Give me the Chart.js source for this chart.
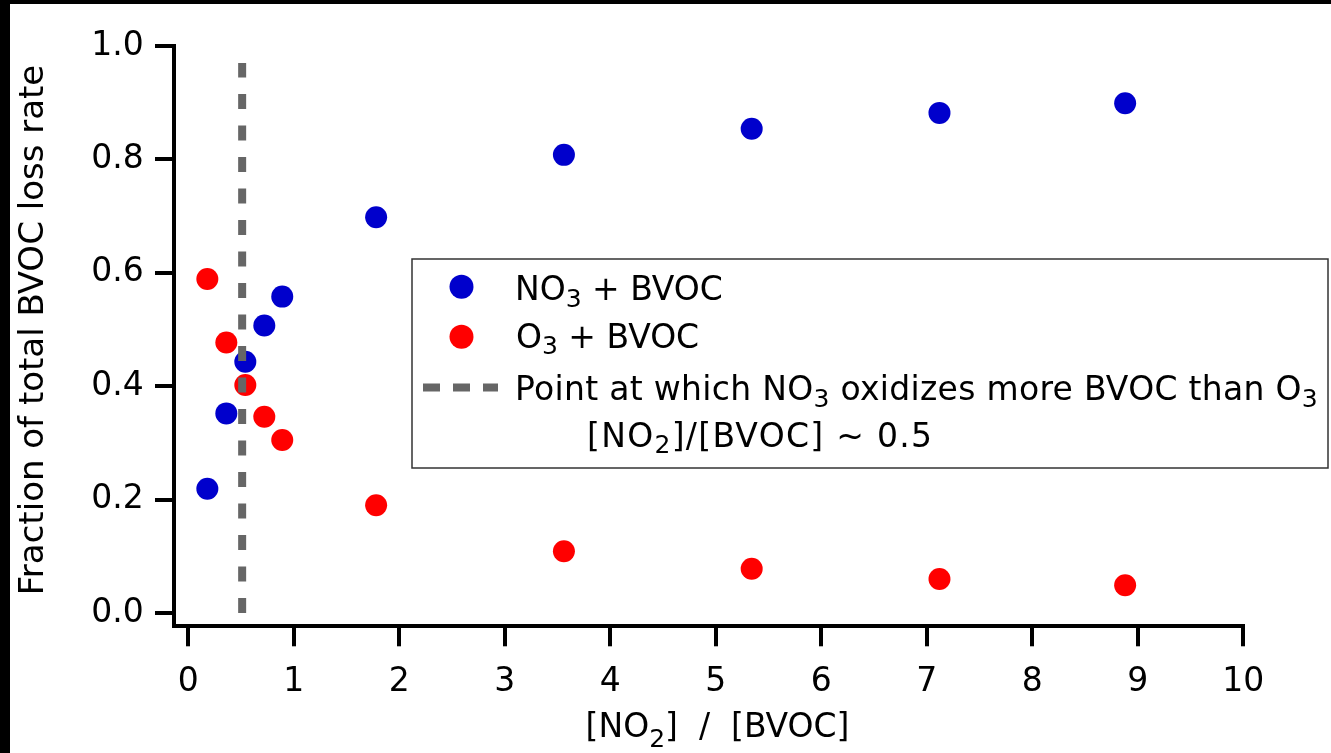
<!DOCTYPE html>
<html>
<head>
<meta charset="utf-8">
<script src="https://cdn.jsdelivr.net/npm/chart.js@4.4.1/dist/chart.umd.min.js"></script>
<style>
  html, body { margin: 0; padding: 0; background: #000; width: 1331px; height: 753px; overflow: hidden; }
  #c { position: absolute; left: 10px; top: 4px; background: #fff; }
</style>
</head>
<body>
<canvas id="c" width="1321" height="749"></canvas>
<script>
// ---- data ----
const ratioNO2BVOC = [0.18, 0.36, 0.54, 0.72, 0.89, 1.78, 3.56, 5.34, 7.12, 8.88];
const fracNO3 = [0.219, 0.352, 0.443, 0.507, 0.558, 0.698, 0.808, 0.854, 0.882, 0.899];
const fracO3  = [0.589, 0.477, 0.402, 0.346, 0.305, 0.190, 0.109, 0.078, 0.060, 0.049];
const crossoverX = [0.51, 0.51];
const crossoverY = [0.0, 0.97];
const xTickValues = [0, 1, 2, 3, 4, 5, 6, 7, 8, 9, 10];
const yTickValues = [0.0, 0.2, 0.4, 0.6, 0.8, 1.0];
const seriesLabels = [
  [["NO", false], ["3", true], [" + BVOC", false]],
  [["O", false], ["3", true], [" + BVOC", false]],
  [["Point at which NO", false], ["3", true], [" oxidizes more BVOC than O", false], ["3", true]],
  [["[NO", false], ["2", true], ["]/[BVOC] ~ 0.5", false]]
];
const xTitleParts = [["[NO", false], ["2", true], ["]  /  [BVOC]", false]];
const yTitle = "Fraction of total BVOC loss rate";

const FONT = '"DejaVu Sans"';
const BLUE = '#0000cc', RED = '#ff0000', GRAY = '#666666';

function richWidth(ctx, parts, size, subSize) {
  let w = 0;
  for (const [t, sub] of parts) {
    ctx.font = `${sub ? subSize : size}px ${FONT}`;
    w += ctx.measureText(t).width;
  }
  return w;
}
function drawRich(ctx, x, y, parts, size, subSize, subShift) {
  let cx = x;
  for (const [t, sub] of parts) {
    ctx.font = `${sub ? subSize : size}px ${FONT}`;
    ctx.fillText(t, cx, y + (sub ? subShift : 0));
    cx += ctx.measureText(t).width;
  }
  return cx;
}

const decorPlugin = {
  id: 'decor',
  afterDatasetsDraw(chart) {
    const ctx = chart.ctx;
    ctx.save();
    // legend box
    ctx.fillStyle = '#fff';
    ctx.fillRect(402, 255, 916, 209);
    ctx.strokeStyle = '#333';
    ctx.lineWidth = 1.5;
    ctx.strokeRect(402, 255, 916, 209);
    // markers
    ctx.fillStyle = BLUE;
    ctx.beginPath(); ctx.arc(451.5, 282.7, 12, 0, Math.PI * 2); ctx.fill();
    ctx.fillStyle = RED;
    ctx.beginPath(); ctx.arc(451.5, 332.7, 12, 0, Math.PI * 2); ctx.fill();
    ctx.strokeStyle = GRAY;
    ctx.lineWidth = 8;
    ctx.setLineDash([17, 13]);
    ctx.beginPath(); ctx.moveTo(413, 383.5); ctx.lineTo(488, 383.5); ctx.stroke();
    ctx.setLineDash([]);
    // texts
    ctx.fillStyle = '#000';
    ctx.textBaseline = 'alphabetic';
    ctx.textAlign = 'left';
    const xs = [505, 506, 505, 577];
    const ys = [296, 343.5, 396, 442.7];
    const spacing = ['0px', '0px', '0.3px', '1.3px'];
    seriesLabels.forEach((parts, i) => {
      ctx.letterSpacing = spacing[i];
      drawRich(ctx, xs[i], ys[i], parts, 33, 25, 6.7);
    });
    ctx.letterSpacing = '0px';
    ctx.restore();
  },
  afterDraw(chart) {
    const ctx = chart.ctx;
    ctx.save();
    ctx.fillStyle = '#000';
    ctx.textBaseline = 'alphabetic';
    ctx.textAlign = 'left';
    // x title
    const w = richWidth(ctx, xTitleParts, 33, 25);
    drawRich(ctx, 707.5 - w / 2, 732.7, xTitleParts, 33, 25, 10);
    // y title
    ctx.translate(33, 326);
    ctx.rotate(-Math.PI / 2);
    ctx.textAlign = 'center';
    ctx.font = `34px ${FONT}`;
    ctx.fillText(yTitle, 0, 0);
    ctx.restore();
  }
};

const toXY = (xs, ys) => xs.map((x, i) => ({ x: x, y: ys[i] }));

new Chart(document.getElementById('c'), {
  type: 'scatter',
  data: {
    datasets: [
      {
        type: 'line',
        label: 'crossover',
        data: toXY(crossoverX, crossoverY),
        borderColor: GRAY,
        borderWidth: 8,
        borderDash: [15, 16.5],
        borderCapStyle: 'butt',
        pointRadius: 0,
        fill: false,
        clip: false
      },
      {
        label: 'NO3 + BVOC',
        data: toXY(ratioNO2BVOC, fracNO3),
        backgroundColor: BLUE,
        borderWidth: 0,
        pointRadius: 11,
        pointHoverRadius: 11,
        clip: false
      },
      {
        label: 'O3 + BVOC',
        data: toXY(ratioNO2BVOC, fracO3),
        backgroundColor: RED,
        borderWidth: 0,
        pointRadius: 11,
        pointHoverRadius: 11,
        clip: false
      }
    ]
  },
  options: {
    responsive: false,
    animation: false,
    devicePixelRatio: 1,
    layout: { padding: { left: 0, top: 42, right: 87.7, bottom: 0 } },
    plugins: { legend: { display: false }, tooltip: { enabled: false }, title: { display: false } },
    scales: {
      x: {
        type: 'linear',
        min: -0.136,
        max: 10,
        afterBuildTicks: s => { s.ticks = xTickValues.map(v => ({ value: v })); },
        afterFit: s => { s.height = 126.7; },
        grid: { drawOnChartArea: false, drawTicks: true, tickLength: 20, tickWidth: 4, tickColor: '#000', color: '#000', lineWidth: 4 },
        border: { display: true, color: '#000', width: 4 },
        ticks: {
          color: '#000',
          font: { family: 'DejaVu Sans', size: 33 },
          padding: 16.4,
          maxRotation: 0,
          autoSkip: false,
          callback: v => String(v)
        }
      },
      y: {
        type: 'linear',
        min: -0.0235,
        max: 1.0,
        afterBuildTicks: s => { s.ticks = yTickValues.map(v => ({ value: v })); },
        afterFit: s => { s.width = 164; },
        grid: { drawOnChartArea: false, drawTicks: true, tickLength: 19, tickWidth: 4, tickColor: '#000', color: '#000', lineWidth: 4 },
        border: { display: true, color: '#000', width: 4 },
        ticks: {
          color: '#000',
          font: { family: 'DejaVu Sans', size: 33 },
          padding: 11.3,
          autoSkip: false,
          callback: v => Number(v).toFixed(1)
        }
      }
    }
  },
  plugins: [decorPlugin]
});
</script>
</body>
</html>
